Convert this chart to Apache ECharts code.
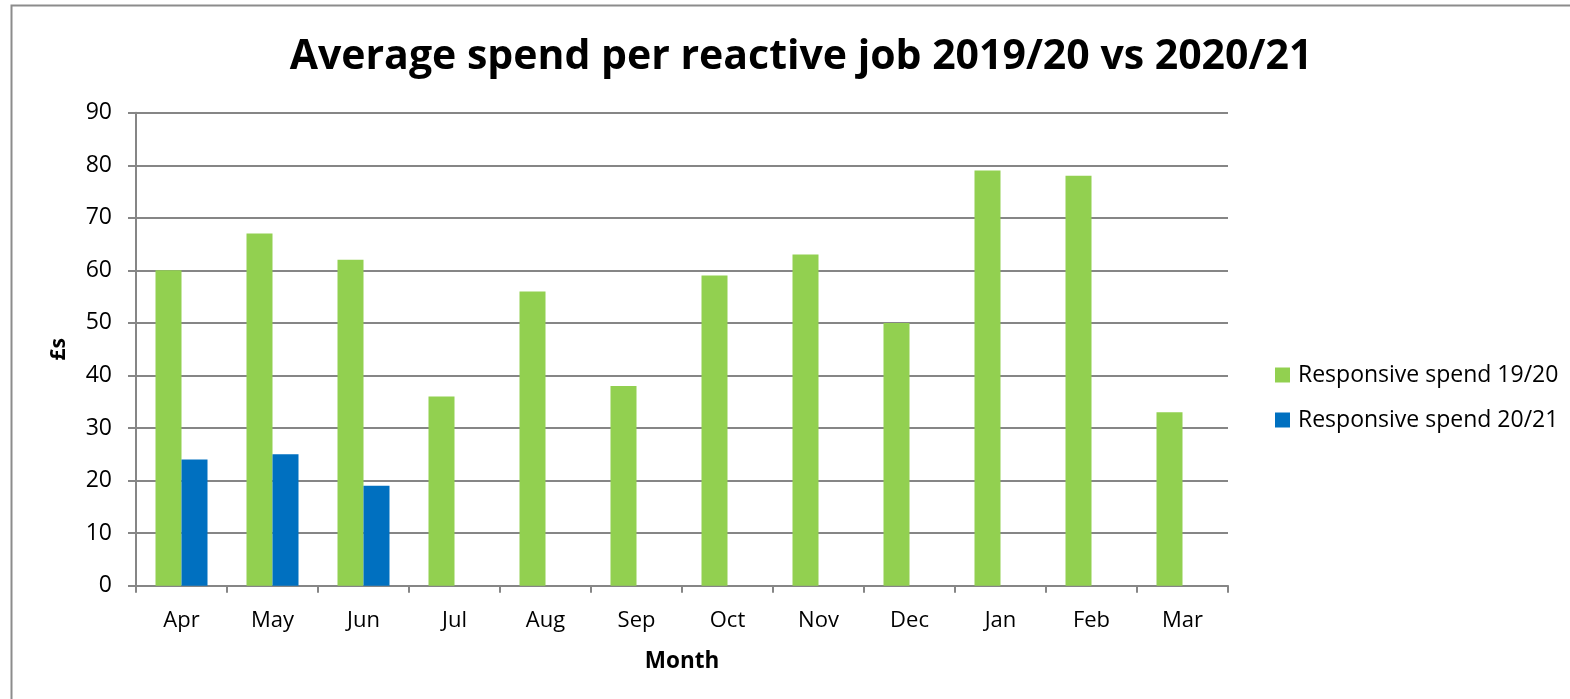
<!DOCTYPE html>
<html><head><meta charset="utf-8">
<script src="https://cdn.jsdelivr.net/npm/echarts@6/dist/echarts.min.js"></script>
<style>html,body{margin:0;padding:0;background:#fff}#c{width:1570px;height:699px}</style>
</head><body><div id="c"></div>
<script>
const categories = ['Apr','May','Jun','Jul','Aug','Sep','Oct','Nov','Dec','Jan','Feb','Mar'];
const spend1920 = [60,67,62,36,56,38,59,63,50,79,78,33];
const spend2021 = [24,25,19,null,null,null,null,null,null,null,null,null];
const seriesNames = ['Responsive spend 19/20','Responsive spend 20/21'];
const titleText = 'Average spend per reactive job 2019/20 vs 2020/21';
const FONT = '"Open Sans", "Noto Sans", sans-serif';

const chart = echarts.init(document.getElementById('c'), null, {renderer:'canvas'});
chart.setOption({
  animation:false,
  backgroundColor:'#fff',
  graphic:[{type:'rect',shape:{x:11.5,y:5.5,width:1600,height:800},style:{fill:'none',stroke:'#8c8c8c',lineWidth:2},silent:true}],
  title:{text:titleText,left:796,top:32,textAlign:'center',textStyle:{fontFamily:FONT,fontWeight:'bold',fontSize:41,color:'#000'}},
  legend:{orient:'vertical',left:1270,top:358,itemWidth:15,itemHeight:15,itemGap:21,icon:'rect',
    textStyle:{fontFamily:FONT,fontSize:23,lineHeight:24,color:'#000',padding:[0,0,0,3]},data:seriesNames},
  grid:{left:136,right:342,top:112.7,bottom:113.3,containLabel:false},
  xAxis:{type:'category',data:categories,name:'Month',nameLocation:'middle',nameGap:64,
    nameTextStyle:{fontFamily:FONT,fontWeight:'bold',fontSize:22.5,color:'#000'},
    axisLine:{lineStyle:{color:'#868686',width:2}},axisTick:{show:true,length:7,lineStyle:{color:'#868686',width:2}},
    axisLabel:{fontFamily:FONT,fontSize:22,color:'#000',margin:24}},
  yAxis:{type:'value',min:0,max:90,interval:10,name:'£s',nameLocation:'middle',nameGap:66,nameRotate:90,
    nameTextStyle:{fontFamily:FONT,fontWeight:'bold',fontSize:21,color:'#000'},
    axisLine:{show:true,lineStyle:{color:'#868686',width:2}},axisTick:{show:true,length:8,lineStyle:{color:'#868686',width:2}},
    splitLine:{lineStyle:{color:'#868686',width:2}},
    axisLabel:{fontFamily:FONT,fontSize:23,color:'#000',margin:24}},
  series:[
    {name:seriesNames[0],type:'bar',data:spend1920,itemStyle:{color:'#92D050'},barWidth:26,barGap:'0%'},
    {name:seriesNames[1],type:'bar',data:spend2021,itemStyle:{color:'#0070C0'},barWidth:26,barGap:'0%'}
  ]
});
</script></body></html>
